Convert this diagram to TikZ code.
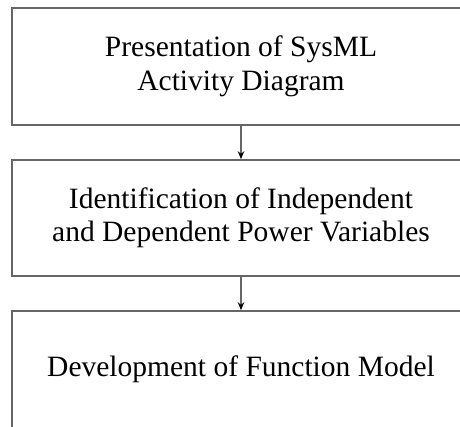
\documentclass[tikz,border=0pt]{standalone}
\usepackage{fontspec}
\setmainfont{Liberation Serif}
\usetikzlibrary{arrows.meta}
\begin{document}
\begin{tikzpicture}[x=1pt,y=1pt,
  stagebox/.style={draw=black!60, line width=1.6pt, minimum width=458pt, align=center,
    font=\fontsize{29.5}{33.5}\selectfont, text=black, inner sep=0pt},
  flow/.style={draw=black!60, line width=1.2pt, -{Stealth[length=8pt,width=6.5pt,black]}}]
\useasboundingbox (0,0) rectangle (460,-427);
\node[stagebox, minimum height=117pt] (b1) at (241,-66.5) {Presentation of SysML\\Activity Diagram};
\node[stagebox, minimum height=116pt] (b2) at (241,-218) {Identification of Independent\\and Dependent Power Variables};
\node[stagebox, minimum height=117pt] (b3) at (241,-369.5) {Development of Function Model};
\draw[flow] (b1.south) -- (b2.north);
\draw[flow] (b2.south) -- (b3.north);
\end{tikzpicture}
\end{document}
